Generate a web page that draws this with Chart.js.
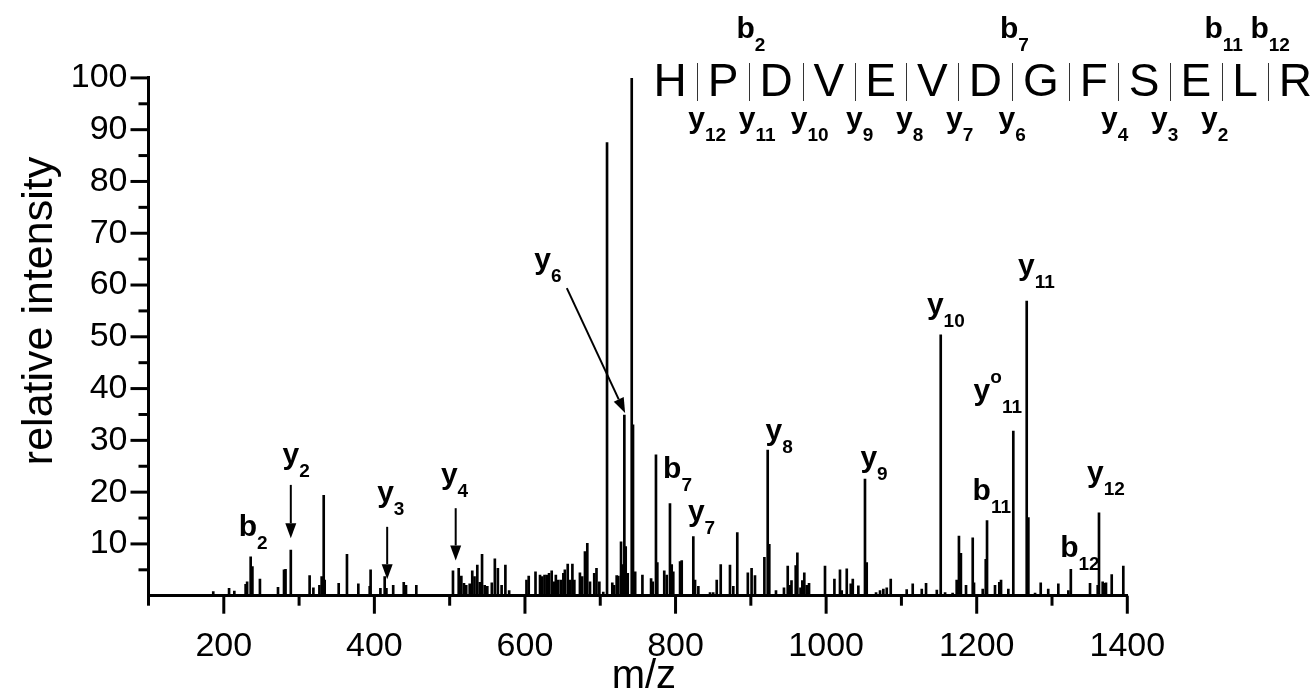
<!DOCTYPE html>
<html><head><meta charset="utf-8">
<script src="https://cdn.jsdelivr.net/npm/chart.js@4.4.1/dist/chart.umd.min.js"></script>
<style>html,body{margin:0;padding:0;background:#fff;}canvas{display:block;}</style>
</head><body>
<canvas id="c" width="1312" height="694"></canvas>
<script>
// ---- spectrum data (m/z, relative intensity) ----
const mzValues = [186,207,214,229,231,235.7,238,248,272,280,282,289,314,319,327,330,332.7,334,352.6,363.6,378.7,393.8,395,408,413.7,416,425,439,442,455.7,
504.4,512,515.5,519,522,526.6,530,533,536.7,540,543,546.5,550,556,560,564,569,574,579,602,605,614,620,623,626,629,632,635.5,638.6,641,644,647.5,651,653,656.8,660,663,665.6,673,676,679.7,682.8,686.4,692,695,698.8,704,
709,716,718.3,721.8,724,727.6,729.8,732,733.8,736.5,741.8,743.5,746.4,756,767.5,769.7,774,775.8,785,788.3,792.6,794.9,797,806,808.2,823.6,825.9,830.3,845.8,850,854.7,860,872.3,876.7,882,896,901,905.5,918,922.4,924.5,
933.4,944,949,952,954,959.6,961.8,966,968.4,971,974.2,977.3,998.5,1011,1018.4,1020.7,1027.4,1032.7,1035.4,1042.8,1051.6,1053.9,1066.3,1071.6,1076,1080.5,1085.8,1107,1115,1127,1132.7,1147,1152.2,1158,
1168,1173.4,1176.4,1179,1185.8,1194.7,1196.4,1208,1212,1213.7,1224.3,1230,1232.3,1242,1248.6,1266.4,1268.6,1277.5,1285,1295,1308.4,1321.7,1325,1350.5,1360.7,1362.4,1367.3,1369.5,1371.7,1379.3,1394.7];
const intensities = [0.8,1.4,0.9,2.2,2.7,7.5,5.6,3.2,1.6,5.0,5.1,8.8,3.9,1.5,2.0,3.7,19.4,3.0,2.4,8.0,2.3,1.8,5.0,1.4,3.7,1.4,2.0,2.6,2.0,2.0,
4.8,5.3,3.8,2.4,2.0,2.3,4.8,3.7,5.9,2.6,8.0,2.0,1.8,2.5,7.1,5.3,2.0,5.9,1.0,3.0,3.8,4.6,4.0,3.7,4.0,4.0,4.3,4.8,2.7,4.0,3.0,3.0,4.3,5.0,6.1,3.0,6.1,3.0,4.4,3.7,8.5,10.1,2.7,4.3,5.3,2.7,0.7,
87.5,2.5,2.0,3.9,3.8,10.4,6.0,34.9,9.5,4.3,100,33,4.6,4.0,3.3,2.7,27.2,6.4,4.8,4.0,17.8,6.0,4.6,6.6,6.8,11.4,3.0,1.8,0.6,0.6,3.0,6.0,5.9,1.8,12.2,4.4,5.3,3.9,7.4,28.1,9.9,
1.0,1.5,5.7,2.0,2.9,5.8,8.3,1.5,2.9,4.4,2.0,2.4,5.7,3.2,5.0,1.0,5.2,2.3,3.2,1.9,22.5,6.4,0.6,1.0,1.3,1.5,3.2,1.2,2.3,1.3,2.4,1.1,50.4,0.6,
0.5,3.0,11.5,8.2,2.0,11.2,2.5,1.3,7.0,14.5,2.0,2.6,3.0,1.3,31.8,56.9,15.1,0.5,2.5,1.3,2.3,1.0,5.1,2.4,2.0,16.0,2.7,2.4,2.5,4.1,5.7];

// ---- axis ticks ----
const xMin = 100, xMax = 1400, xTickStep = 100, xLabelStep = 200;
const yMin = 0, yMax = 100, yTickStep = 5, yLabelStep = 10;
const xTitle = 'm/z';
const yTitle = 'relative intensity';

// ---- peak annotations (ion name, subscript, superscript, label centre m/z, label baseline intensity) ----
const ionMain  = ['b','y','y','y','y','b','y','y','y','y','y','y','b','b','y'];
const ionSub   = ['2','2','3','4','6','7','7','8','9','10','11','11','11','12','12'];
const ionSup   = ['','','','','','','','','','','o','','','',''];
const ionMz    = [239,296,421.8,506.5,630.5,802.6,834.5,937.5,1063.6,1159,1228,1279.4,1220,1337,1371.7];
const ionInt   = [11.5,25.4,18.1,21.5,63,22.7,14.4,30,24.9,54.4,37.8,61.9,18.5,7.5,21.9];

// ---- arrows (from m/z,intensity -> to m/z,intensity) ----
const arrowFromMz  = [289,417,508,655.6];
const arrowFromInt = [21.4,13.3,16.9,59.4];
const arrowToMz    = [289,417,508,733];
const arrowToInt   = [11.1,3.2,6.8,35.3];

// ---- peptide sequence with fragment markers ----
const residues = ['H','P','D','V','E','V','D','G','F','S','E','L','R'];
const bIons = [2,7,11,12];               // b_n marked after residue n
const yIons = [12,11,10,9,8,7,6,4,3,2];  // y_n marked before the last n residues

const FONT = "'Liberation Sans', Arial, Helvetica, sans-serif";

function drawIon(ctx, cx, by, main, sub, sup) {
  ctx.fillStyle = '#000';
  ctx.textBaseline = 'alphabetic';
  ctx.textAlign = 'left';
  ctx.font = 'bold 30px ' + FONT;
  const wm = ctx.measureText(main).width;
  ctx.font = 'bold 19px ' + FONT;
  const wsup = sup ? ctx.measureText(sup).width : 0;
  const wsub = ctx.measureText(sub).width;
  const x0 = cx - (wm + wsup + wsub) / 2;
  ctx.font = 'bold 30px ' + FONT;
  ctx.fillText(main, x0, by);
  ctx.font = 'bold 19px ' + FONT;
  if (sup) ctx.fillText(sup, x0 + wm, by - 17);
  ctx.fillText(sub, x0 + wm + wsup, by + 13);
}

function drawArrow(ctx, x1, y1, x2, y2) {
  const ang = Math.atan2(y2 - y1, x2 - x1);
  const hl = 15, hw = 5.5;
  const bx = x2 - hl * Math.cos(ang), byy = y2 - hl * Math.sin(ang);
  ctx.strokeStyle = '#000';
  ctx.lineWidth = 2;
  ctx.beginPath(); ctx.moveTo(x1, y1); ctx.lineTo(bx, byy); ctx.stroke();
  ctx.fillStyle = '#000';
  ctx.beginPath();
  ctx.moveTo(x2, y2);
  ctx.lineTo(bx + hw * Math.sin(ang), byy - hw * Math.cos(ang));
  ctx.lineTo(bx - hw * Math.sin(ang), byy + hw * Math.cos(ang));
  ctx.closePath(); ctx.fill();
}

const decorPlugin = {
  id: 'decor',
  afterDraw(chart) {
    const ctx = chart.ctx;
    const xs = chart.scales.x, ys = chart.scales.y;
    const area = chart.chartArea;
    ctx.save();
    // tick marks (major labelled, minor shorter)
    ctx.strokeStyle = '#000';
    ctx.lineWidth = 3;
    ctx.lineCap = 'butt';
    for (let v = xMin; v <= xMax; v += xTickStep) {
      const px = xs.getPixelForValue(v);
      const len = (v % xLabelStep === 0) ? 18 : 10;
      ctx.beginPath(); ctx.moveTo(px, area.bottom); ctx.lineTo(px, area.bottom + len); ctx.stroke();
    }
    for (let v = yMin + yTickStep; v <= yMax; v += yTickStep) {
      const py = ys.getPixelForValue(v);
      const len = (v % yLabelStep === 0) ? 18 : 10;
      ctx.beginPath(); ctx.moveTo(area.left, py); ctx.lineTo(area.left - len, py); ctx.stroke();
    }
    // axis titles
    ctx.fillStyle = '#000';
    ctx.font = '40px ' + FONT;
    ctx.textAlign = 'center';
    ctx.textBaseline = 'alphabetic';
    ctx.fillText(xTitle, (area.left + area.right) / 2 + 6, 688);
    ctx.save();
    ctx.translate(52, 311);
    ctx.rotate(-Math.PI / 2);
    ctx.font = '43px ' + FONT;
    ctx.fillText(yTitle, 0, 0);
    ctx.restore();
    // ion labels and arrows
    for (let i = 0; i < ionMain.length; i++) {
      drawIon(ctx, xs.getPixelForValue(ionMz[i]), ys.getPixelForValue(ionInt[i]), ionMain[i], ionSub[i], ionSup[i]);
    }
    for (let i = 0; i < arrowFromMz.length; i++) {
      drawArrow(ctx, xs.getPixelForValue(arrowFromMz[i]), ys.getPixelForValue(arrowFromInt[i]),
                xs.getPixelForValue(arrowToMz[i]), ys.getPixelForValue(arrowToInt[i]));
    }
    // sequence
    ctx.font = '46px ' + FONT;
    ctx.textAlign = 'left';
    const gap = 21;
    let x = 653.5;
    const sepX = [];
    residues.forEach((r, i) => {
      const w = ctx.measureText(r).width;
      ctx.fillStyle = '#000';
      ctx.fillText(r, x, 96);
      x += w;
      if (i < residues.length - 1) { sepX.push(x + gap / 2); x += gap; }
    });
    ctx.strokeStyle = '#333';
    ctx.lineWidth = 1;
    sepX.forEach(sx => {
      ctx.beginPath(); ctx.moveTo(Math.round(sx) + 0.5, 63); ctx.lineTo(Math.round(sx) + 0.5, 101); ctx.stroke();
    });
    bIons.forEach(n => drawIon(ctx, sepX[n - 1] + 2, 38, 'b', String(n), ''));
    yIons.forEach(n => {
      const k = residues.length - n; // separator number 1..12
      drawIon(ctx, sepX[k - 1] + 10 - 1.7 * (k - 1), 128, 'y', String(n), '');
    });
    ctx.restore();
  }
};

new Chart(document.getElementById('c'), {
  type: 'bar',
  data: {
    datasets: [{
      data: mzValues.map((m, i) => ({ x: m, y: intensities[i] })),
      backgroundColor: '#000',
      borderWidth: 0,
      barThickness: 2
    }]
  },
  options: {
    responsive: false,
    animation: false,
    devicePixelRatio: 1,
    layout: { padding: { top: 77.9, right: 184.7, left: 0, bottom: 0 } },
    plugins: { legend: { display: false }, tooltip: { enabled: false } },
    scales: {
      x: {
        type: 'linear', min: xMin, max: xMax, offset: false,
        grid: { display: true, drawOnChartArea: false, drawTicks: false },
        border: { display: true, color: '#000', width: 3 },
        ticks: { stepSize: xTickStep, autoSkip: false, maxRotation: 0, padding: 31, color: '#000',
                 font: { family: FONT, size: 34 },
                 callback: v => (v % xLabelStep === 0 ? String(v) : '') },
        afterFit: s => { s.height = 98.3; }
      },
      y: {
        min: yMin, max: yMax,
        grid: { display: true, drawOnChartArea: false, drawTicks: false },
        border: { display: true, color: '#000', width: 3 },
        ticks: { stepSize: yLabelStep, padding: 21, color: '#000',
                 font: { family: FONT, size: 34 },
                 callback: v => (v === 0 ? '' : String(v)) },
        afterFit: s => { s.width = 148.5; }
      }
    }
  },
  plugins: [decorPlugin]
});
</script>
</body></html>
